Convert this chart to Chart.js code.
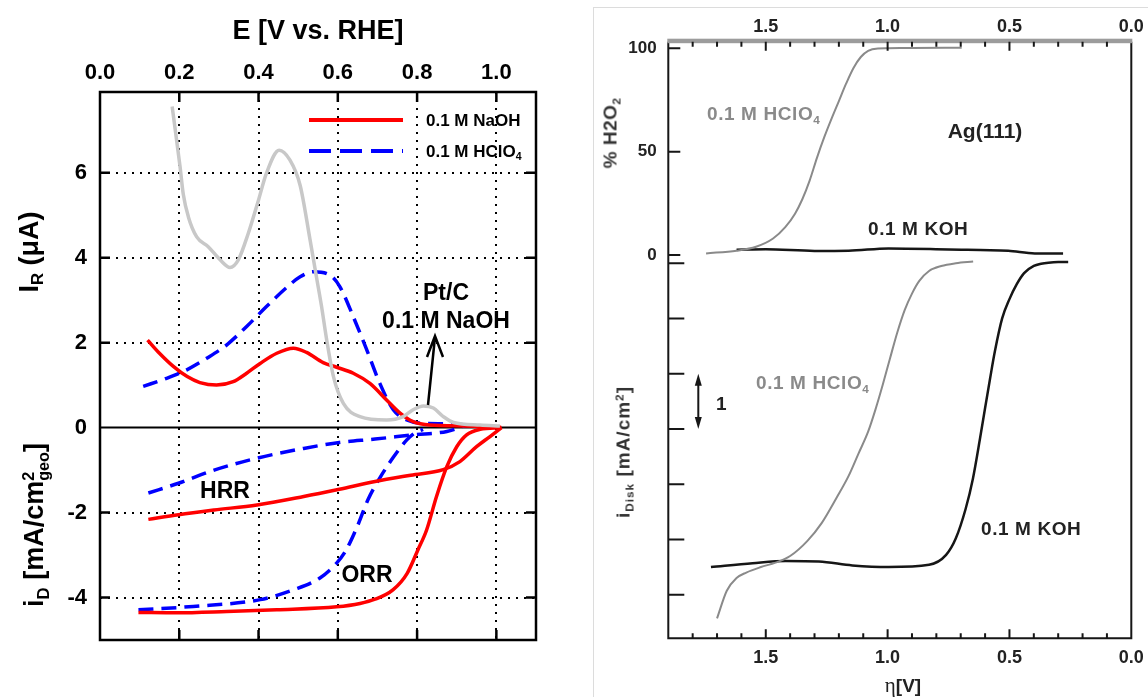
<!DOCTYPE html>
<html>
<head>
<meta charset="utf-8">
<script src="https://cdn.jsdelivr.net/npm/chart.js@4.4.1/dist/chart.umd.min.js"></script>
<style>
  body { margin: 0; background: #fff; }
  #page { position: relative; width: 1148px; height: 697px; overflow: hidden; background: #fff;
          font-family: "Liberation Sans", Arial, sans-serif; }
  canvas { position: absolute; top: 0; left: 0; }
  #right { position: absolute; left: 585px; top: 0; width: 563px; height: 697px; filter: blur(0.45px); }
  #frame { position: absolute; left: 8px; top: 7px; width: 600px; height: 720px;
           border-left: 1.5px solid #dcdcdc; border-top: 1.5px solid #dcdcdc; }
  .t { position: absolute; white-space: nowrap; font-weight: bold; line-height: 1; }
  .c { transform: translate(-50%, -50%); }
  .l { transform: translate(0, -50%); }
  .rot { transform: translate(-50%, -50%) rotate(-90deg); }
  sub { font-size: 0.62em; vertical-align: baseline; position: relative; top: 0.32em; }
  sup { font-size: 0.62em; vertical-align: baseline; position: relative; top: -0.55em; }
  .ss { display: inline-block; vertical-align: middle; font-size: 0.6em; line-height: 0.95; text-align: left; }
  .ss span { display: block; }
</style>
</head>
<body>
<div id="page">
  <canvas id="ringDisk" width="580" height="697"></canvas>

  <div class="t rot" style="left:29px; top:252px; font-size:27px;">I<sub>R</sub> (&mu;A)</div>
  <div class="t rot" style="left:36px; top:525px; font-size:27px;">i<sub>D</sub> [mA/cm<span class="ss"><span>2</span><span>geo</span></span>]</div>

  <div class="t l" style="left:426px; top:120px; font-size:17px;">0.1 M NaOH</div>
  <div class="t l" style="left:426px; top:151px; font-size:17px;">0.1 M HClO<sub>4</sub></div>
  <div class="t" style="left:446px; top:278px; font-size:23px; line-height:28px; text-align:center; transform:translateX(-50%);">Pt/C<br>0.1 M NaOH</div>
  <div class="t c" style="left:225px; top:490px; font-size:23px;">HRR</div>
  <div class="t c" style="left:367px; top:574px; font-size:23px;">ORR</div>

  <div id="right">
    <div id="frame"></div>
    <canvas id="agRrde" width="563" height="697"></canvas>
    <div class="t rot" style="left:25px; top:133px; font-size:19px; letter-spacing:0.5px; color:#333;">% H2O<sub>2</sub></div>
    <div class="t rot" style="left:38px; top:452px; font-size:19px; letter-spacing:1px; color:#333;">i<sub>Disk</sub> [mA/cm<sup>2</sup>]</div>
    <div class="t l" style="left:122px; top:113px; font-size:19px; letter-spacing:0.6px; color:#8a8a8a;">0.1 M HClO<sub>4</sub></div>
    <div class="t c" style="left:400px; top:130px; font-size:21px; color:#222;">Ag(111)</div>
    <div class="t l" style="left:283px; top:228px; font-size:19px; letter-spacing:0.6px; color:#222;">0.1 M KOH</div>
    <div class="t l" style="left:171px; top:382px; font-size:19px; letter-spacing:0.6px; color:#8a8a8a;">0.1 M HClO<sub>4</sub></div>
    <div class="t l" style="left:396px; top:528px; font-size:19px; letter-spacing:0.6px; color:#222;">0.1 M KOH</div>
    <div class="t l" style="left:131px; top:403px; font-size:19px; color:#222;">1</div>
    <div class="t c" style="left:318px; top:685px; font-size:19px; color:#222;"><span style="font-family:'Liberation Serif',serif; font-weight:normal; font-size:21px;">&eta;</span>[V]</div>
  </div>
</div>

<script>
Chart.defaults.font.family = '"Liberation Sans", Arial, sans-serif';
Chart.defaults.color = '#000';

// ---- left panel: ring / disk currents vs E ----
const E_TICKS = [0, 0.2, 0.4, 0.6, 0.8, 1.0];
const I_TICKS = [-4, -2, 0, 2, 4, 6];

// ring currents (uA)
const ringNaOH_E = [0.12, 0.15, 0.185, 0.22, 0.252, 0.294, 0.336, 0.37, 0.404, 0.446, 0.488, 0.521, 0.563, 0.597, 0.639, 0.681, 0.723, 0.757, 0.79, 0.832, 0.917, 1.01];
const ringNaOH_I = [2.06, 1.75, 1.44, 1.2, 1.06, 1.0, 1.08, 1.28, 1.51, 1.75, 1.87, 1.77, 1.53, 1.42, 1.28, 1.04, 0.65, 0.34, 0.14, 0.06, 0.04, 0.02];

const ringHClO4_E = [0.109, 0.168, 0.219, 0.269, 0.32, 0.37, 0.42, 0.471, 0.505, 0.538, 0.58, 0.605, 0.639, 0.673, 0.706, 0.74, 0.774, 0.816, 0.874, 0.925];
const ringHClO4_I = [0.97, 1.16, 1.36, 1.63, 1.95, 2.38, 2.85, 3.3, 3.55, 3.67, 3.59, 3.32, 2.61, 1.83, 1.04, 0.42, 0.18, 0.1, 0.09, 0.06];

const ringPtC_E = [0.182, 0.202, 0.21, 0.223, 0.244, 0.273, 0.303, 0.328, 0.349, 0.374, 0.4, 0.42, 0.452, 0.479, 0.505, 0.53, 0.546, 0.559, 0.572, 0.589, 0.614, 0.656, 0.723, 0.765, 0.79, 0.816, 0.841, 0.866, 0.892, 0.959, 1.009];
const ringPtC_I = [7.56, 6.14, 5.5, 4.96, 4.49, 4.26, 3.95, 3.77, 3.95, 4.57, 5.36, 5.99, 6.53, 6.3, 5.7, 4.42, 3.55, 2.85, 2.06, 1.2, 0.57, 0.26, 0.18, 0.26, 0.42, 0.51, 0.46, 0.26, 0.12, 0.06, 0.04];

// disk currents (mA/cm2 geo)
const orrNaOH_E = [0.097, 0.193, 0.32, 0.446, 0.597, 0.656, 0.694, 0.739, 0.775, 0.802, 0.824, 0.849, 0.875, 0.9, 0.925, 0.959, 1.013];
const orrNaOH_i = [-4.35, -4.36, -4.33, -4.29, -4.22, -4.14, -4.04, -3.82, -3.43, -2.88, -2.41, -1.62, -0.92, -0.45, -0.17, -0.04, 0];

const hrrNaOH_E = [0.122, 0.198, 0.288, 0.396, 0.514, 0.604, 0.694, 0.784, 0.866, 0.908, 0.95, 0.984, 1.013];
const hrrNaOH_i = [-2.16, -2.05, -1.94, -1.82, -1.62, -1.45, -1.27, -1.12, -0.99, -0.8, -0.45, -0.21, 0];

const orrHClO4_E = [0.097, 0.235, 0.404, 0.488, 0.555, 0.597, 0.62, 0.649, 0.676, 0.705, 0.74, 0.774, 0.795, 0.815];
const orrHClO4_i = [-4.29, -4.21, -4.05, -3.82, -3.54, -3.19, -2.9, -2.33, -1.7, -1.2, -0.7, -0.29, -0.12, -0.04];

const hrrHClO4_E = [0.122, 0.198, 0.288, 0.396, 0.514, 0.604, 0.694, 0.79, 0.875, 0.925];
const hrrHClO4_i = [-1.54, -1.31, -1.0, -0.72, -0.49, -0.35, -0.27, -0.17, -0.09, 0.06];

// ---- right panel: Ag(111) RRDE vs overpotential ----
const ETA_TICKS = [0, 0.5, 1.0, 1.5];
const H2O2_TICKS = [0, 50, 100];
const DISK_TICKS = [0, -1, -2, -3, -4, -5, -6];

const h2o2HClO4_eta = [0.696, 0.9, 1.0, 1.04, 1.08, 1.11, 1.14, 1.17, 1.2, 1.23, 1.26, 1.29, 1.32, 1.35, 1.38, 1.42, 1.47, 1.54, 1.62, 1.745];
const h2o2HClO4_pct = [100.3, 100.2, 100, 99.9, 98.8, 95.8, 90.5, 83, 74.5, 66, 57, 47, 36, 27, 20, 13.5, 8, 4, 2.1, 0.8];

const h2o2KOH_eta = [0.28, 0.396, 0.505, 0.75, 0.996, 1.16, 1.3, 1.5, 1.62];
const h2o2KOH_pct = [0.8, 0.8, 2.1, 2.7, 3.2, 2.1, 2.0, 2.8, 2.6];

const diskHClO4_eta = [0.649, 0.72, 0.78, 0.83, 0.87, 0.9, 0.93, 0.96, 0.99, 1.02, 1.05, 1.08, 1.12, 1.16, 1.21, 1.27, 1.33, 1.4, 1.46, 1.52, 1.58, 1.62, 1.66, 1.7];
const diskHClO4_i = [0.03, 0, -0.05, -0.14, -0.32, -0.55, -0.85, -1.25, -1.72, -2.2, -2.65, -3.05, -3.45, -3.85, -4.25, -4.7, -5.03, -5.3, -5.42, -5.5, -5.6, -5.7, -5.93, -6.43];

const diskKOH_eta = [0.259, 0.3, 0.34, 0.37, 0.4, 0.44, 0.47, 0.5, 0.53, 0.56, 0.58, 0.6, 0.62, 0.65, 0.68, 0.72, 0.76, 0.83, 0.996, 1.145, 1.282, 1.418, 1.554, 1.725];
const diskKOH_i = [0.02, 0.02, 0.01, -0.01, -0.05, -0.18, -0.38, -0.65, -1.0, -1.6, -2.1, -2.62, -3.15, -3.9, -4.45, -4.98, -5.28, -5.46, -5.5, -5.47, -5.4, -5.39, -5.43, -5.5];

const pts = (xs, ys) => xs.map((x, i) => ({ x, y: ys[i] }));
const fixTicks = values => scale => { scale.ticks = values.map(v => ({ value: v })); };

const RED = '#ff0000', BLUE = '#0000ff', LIGHT = '#c8c8c8';

const curve = (data, color, extra) => Object.assign({
  data, borderColor: color, borderWidth: 3.5, pointRadius: 0,
  cubicInterpolationMode: 'monotone', fill: false
}, extra);

const leftFrame = {
  id: 'leftFrame',
  beforeDatasetsDraw(chart) {
    const { ctx, chartArea: a, scales: { y } } = chart;
    const y0 = y.getPixelForValue(0);
    ctx.save();
    ctx.strokeStyle = '#000';
    ctx.lineWidth = 2;
    ctx.beginPath();
    ctx.moveTo(a.left, y0);
    ctx.lineTo(a.right, y0);
    ctx.stroke();
    ctx.restore();
  },
  afterDatasetsDraw(chart) {
    const { ctx, chartArea: a, scales: { x, y } } = chart;
    ctx.save();
    ctx.strokeStyle = '#000';
    ctx.lineWidth = 2.5;
    ctx.strokeRect(a.left, a.top, a.right - a.left, a.bottom - a.top);

    // inward tick marks on all four sides
    ctx.beginPath();
    E_TICKS.filter(v => v > 0).forEach(v => {
      const px = x.getPixelForValue(v);
      ctx.moveTo(px, a.top); ctx.lineTo(px, a.top + 10);
      ctx.moveTo(px, a.bottom); ctx.lineTo(px, a.bottom - 10);
    });
    I_TICKS.filter(v => v !== 0).forEach(v => {
      const py = y.getPixelForValue(v);
      ctx.moveTo(a.left, py); ctx.lineTo(a.left + 10, py);
      ctx.moveTo(a.right, py); ctx.lineTo(a.right - 10, py);
    });
    ctx.stroke();

    // legend samples
    ctx.lineWidth = 4;
    ctx.strokeStyle = RED;
    ctx.beginPath(); ctx.moveTo(309, 120); ctx.lineTo(403, 120); ctx.stroke();
    ctx.strokeStyle = BLUE;
    ctx.setLineDash([22, 9]);
    ctx.beginPath(); ctx.moveTo(309, 151); ctx.lineTo(403, 151); ctx.stroke();
    ctx.setLineDash([]);

    // arrow to the Pt/C ring peak
    ctx.strokeStyle = '#000';
    ctx.lineWidth = 2.5;
    ctx.beginPath();
    ctx.moveTo(428, 405); ctx.lineTo(435, 337);
    ctx.moveTo(427, 357); ctx.lineTo(435, 336); ctx.lineTo(443, 357);
    ctx.stroke();
    ctx.restore();
  }
};

new Chart(document.getElementById('ringDisk'), {
  type: 'line',
  data: {
    datasets: [
      curve(pts(ringPtC_E, ringPtC_I), LIGHT),
      curve(pts(hrrNaOH_E, hrrNaOH_i), RED),
      curve(pts(orrNaOH_E, orrNaOH_i), RED),
      curve(pts(ringNaOH_E, ringNaOH_I), RED),
      curve(pts(hrrHClO4_E, hrrHClO4_i), BLUE, { borderDash: [15, 8] }),
      curve(pts(orrHClO4_E, orrHClO4_i), BLUE, { borderDash: [15, 8] }),
      curve(pts(ringHClO4_E, ringHClO4_I), BLUE, { borderDash: [15, 8] })
    ]
  },
  options: {
    responsive: false,
    animation: false,
    devicePixelRatio: 1,
    layout: { padding: { left: 0, top: 0, right: 44, bottom: 57 } },
    plugins: { legend: { display: false }, tooltip: { enabled: false } },
    scales: {
      x: {
        type: 'linear', position: 'top', min: 0, max: 1.1,
        afterBuildTicks: fixTicks(E_TICKS),
        afterFit: s => { s.height = 92; },
        title: { display: true, text: 'E [V vs. RHE]', font: { size: 27, weight: 'bold' }, padding: { top: 15, bottom: 0 } },
        ticks: { font: { size: 22, weight: 'bold' }, padding: 6, maxRotation: 0, autoSkip: false, callback: v => v.toFixed(1) },
        grid: { drawTicks: false, lineWidth: 2, color: c => (c.tick && c.tick.value === 0 ? 'rgba(0,0,0,0)' : '#000') },
        border: { display: false, dash: [2, 6] }
      },
      y: {
        min: -5, max: 7.9,
        afterBuildTicks: fixTicks(I_TICKS),
        afterFit: s => { s.width = 100; },
        ticks: { font: { size: 22, weight: 'bold' }, padding: 13, autoSkip: false, callback: v => String(v) },
        grid: { drawTicks: false, lineWidth: 2, color: c => (c.tick && c.tick.value === 0 ? 'rgba(0,0,0,0)' : '#000') },
        border: { display: false, dash: [2, 6] }
      }
    }
  },
  plugins: [leftFrame]
});

// ---- right panel ----
const GRAY = '#8a8a8a', INK = '#161616';
const etaMinor = [];
for (let k = 1; k <= 18; k++) etaMinor.push(k / 10);

const rightFrame = {
  id: 'rightFrame',
  afterDatasetsDraw(chart) {
    const { ctx, chartArea: a, scales: { x, y, y2 } } = chart;
    ctx.save();
    ctx.strokeStyle = INK;
    ctx.lineWidth = 2;
    ctx.beginPath();
    ctx.moveTo(a.left, a.top); ctx.lineTo(a.left, a.bottom);
    ctx.lineTo(a.right, a.bottom); ctx.lineTo(a.right, a.top);
    ctx.stroke();
    ctx.fillStyle = '#9c9c9c';
    ctx.fillRect(a.left - 1, a.top - 3, a.right - a.left + 2, 4.5);

    ctx.beginPath();
    etaMinor.forEach(v => {
      const px = x.getPixelForValue(v);
      const len = Math.abs(v * 2 - Math.round(v * 2)) < 1e-6 ? 9 : 5;
      ctx.moveTo(px, a.bottom); ctx.lineTo(px, a.bottom - len);
      ctx.moveTo(px, a.top); ctx.lineTo(px, a.top + len);
    });
    H2O2_TICKS.forEach(v => {
      const py = y.getPixelForValue(v);
      ctx.moveTo(a.left, py); ctx.lineTo(a.left + 12, py);
    });
    DISK_TICKS.forEach(v => {
      const py = y2.getPixelForValue(v);
      ctx.moveTo(a.left, py); ctx.lineTo(a.left + 16, py);
    });
    ctx.stroke();

    // 1 mA/cm2 scale bar
    const bx = a.left + 30;
    const t = y2.getPixelForValue(-2), b = y2.getPixelForValue(-3);
    ctx.lineWidth = 2;
    ctx.beginPath(); ctx.moveTo(bx, t + 6); ctx.lineTo(bx, b - 6); ctx.stroke();
    ctx.fillStyle = INK;
    ctx.beginPath(); ctx.moveTo(bx, t); ctx.lineTo(bx - 3.5, t + 12); ctx.lineTo(bx + 3.5, t + 12); ctx.closePath(); ctx.fill();
    ctx.beginPath(); ctx.moveTo(bx, b); ctx.lineTo(bx - 3.5, b - 12); ctx.lineTo(bx + 3.5, b - 12); ctx.closePath(); ctx.fill();
    ctx.restore();
  }
};

const etaAxis = (position, height, padding) => ({
  type: 'linear', position, reverse: true, min: 0, max: 1.9,
  afterBuildTicks: fixTicks(ETA_TICKS),
  afterFit: s => { s.height = height; },
  ticks: { font: { size: 18, weight: 'bold' }, color: '#222', padding, maxRotation: 0, autoSkip: false, callback: v => v.toFixed(1) },
  grid: { display: false, drawTicks: false },
  border: { display: false }
});

const thin = (data, color, w, axis) => ({
  data, borderColor: color, borderWidth: w, pointRadius: 0,
  cubicInterpolationMode: 'monotone', fill: false, yAxisID: axis
});

new Chart(document.getElementById('agRrde'), {
  type: 'line',
  data: {
    datasets: [
      thin(pts(h2o2HClO4_eta, h2o2HClO4_pct), GRAY, 2, 'y'),
      thin(pts(h2o2KOH_eta, h2o2KOH_pct), INK, 2.5, 'y'),
      thin(pts(diskHClO4_eta, diskHClO4_i), GRAY, 2, 'y2'),
      thin(pts(diskKOH_eta, diskKOH_i), INK, 2.5, 'y2')
    ]
  },
  options: {
    responsive: false,
    animation: false,
    devicePixelRatio: 1,
    layout: { padding: { left: 0, top: 0, right: 16.7, bottom: 0 } },
    plugins: { legend: { display: false }, tooltip: { enabled: false } },
    scales: {
      x: etaAxis('bottom', 58.7, 9),
      x2: etaAxis('top', 41.7, 4),
      y: {
        position: 'left', min: -185.4, max: 103.2,
        afterBuildTicks: fixTicks(H2O2_TICKS),
        afterFit: s => { s.width = 83.3; },
        ticks: { font: { size: 17, weight: 'bold' }, color: '#222', padding: 11.6, autoSkip: false, callback: v => String(v) },
        grid: { display: false, drawTicks: false },
        border: { display: false }
      },
      y2: { position: 'right', display: false, min: -6.79, max: 4.01 }
    }
  },
  plugins: [rightFrame]
});
</script>
</body>
</html>
